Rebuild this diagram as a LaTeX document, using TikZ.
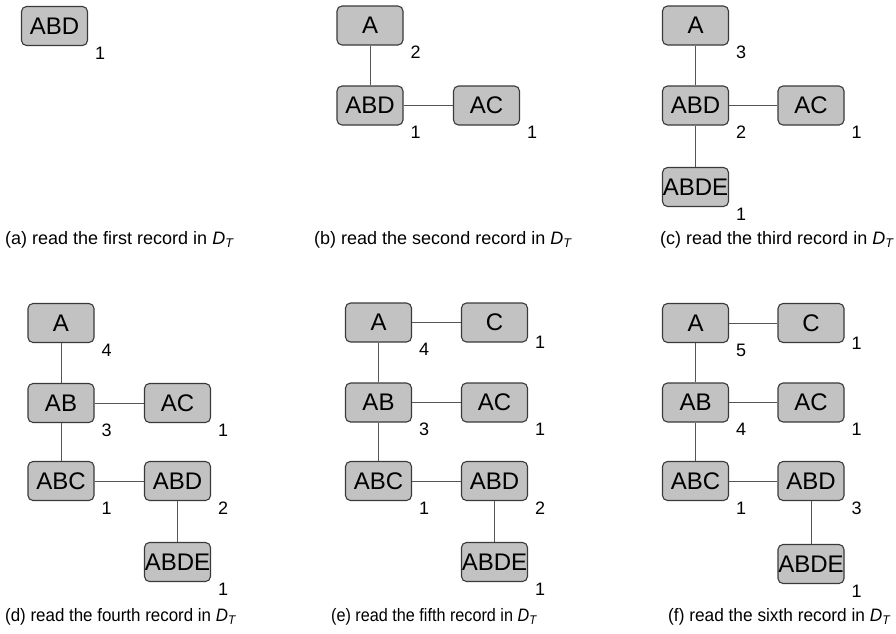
\documentclass[tikz,border=0pt]{standalone}
\usepackage{fontspec}
\setmainfont{Liberation Sans}
\usepackage{xcolor}

\definecolor{recfill}{HTML}{C2C2C2}
\definecolor{recline}{HTML}{3A3A3A}
\definecolor{linkgray}{HTML}{555555}

\tikzset{
  rec/.style={draw=recline, fill=recfill, line width=1.1pt, rounded corners=5pt,
    minimum width=66pt, minimum height=39pt, inner sep=0pt,
    font=\fontsize{24}{28}\selectfont},
  cnt/.style={inner sep=0pt, font=\fontsize{18}{20}\selectfont},
  captxt/.style={anchor=west, inner sep=0pt, font=\fontsize{18}{20}\selectfont},
  link/.style={draw=linkgray, line width=0.9pt}
}

\begin{document}
\begin{tikzpicture}[x=1pt,y=-1pt]
    \fill[white] (0,0) rectangle (896,633);
    \useasboundingbox (0,0) rectangle (896,633);

    % (a)
    \node[rec] (aABD) at (54.5,26) {ABD};
    \node[cnt] (aABDn) at ([shift={(12,7)}]aABD.south east) {1};
    \node[captxt] (acap) at (5,240) {(a) read the first record in \textit{D}\textsubscript{\textit{T}}};

    % (b)
    \node[rec] (bA) at (370,25.5) {A};
    \node[rec] (bABD) at (370,105.5) {ABD};
    \node[rec] (bAC) at (486.5,105.5) {AC};
    \draw[link] (bA) -- (bABD);
    \draw[link] (bABD) -- (bAC);
    \node[cnt] (bAn) at ([shift={(12,7)}]bA.south east) {2};
    \node[cnt] (bABDn) at ([shift={(12,7)}]bABD.south east) {1};
    \node[cnt] (bACn) at ([shift={(12,7)}]bAC.south east) {1};
    \node[captxt] (bcap) at (314,240) {(b) read the second record in \textit{D}\textsubscript{\textit{T}}};

    % (c)
    \node[rec] (cA) at (695.5,25.5) {A};
    \node[rec] (cABD) at (695.5,105.5) {ABD};
    \node[rec] (cAC) at (811,105.5) {AC};
    \node[rec] (cABDE) at (695.5,187) {ABDE};
    \draw[link] (cA) -- (cABD);
    \draw[link] (cABD) -- (cAC);
    \draw[link] (cABD) -- (cABDE);
    \node[cnt] (cAn) at ([shift={(12,7)}]cA.south east) {3};
    \node[cnt] (cABDn) at ([shift={(12,7)}]cABD.south east) {2};
    \node[cnt] (cACn) at ([shift={(12,7)}]cAC.south east) {1};
    \node[cnt] (cABDEn) at ([shift={(12,7)}]cABDE.south east) {1};
    \node[captxt] (ccap) at (660,240) {(c) read the third record in \textit{D}\textsubscript{\textit{T}}};

    % (d)
    \node[rec] (dA) at (61,323) {A};
    \node[rec] (dAB) at (61,403) {AB};
    \node[rec] (dAC) at (177.5,403) {AC};
    \node[rec] (dABC) at (61,481) {ABC};
    \node[rec] (dABD) at (177.5,481) {ABD};
    \node[rec] (dABDE) at (177.5,562) {ABDE};
    \draw[link] (dA) -- (dAB);
    \draw[link] (dAB) -- (dAC);
    \draw[link] (dAB) -- (dABC);
    \draw[link] (dABC) -- (dABD);
    \draw[link] (dABD) -- (dABDE);
    \node[cnt] (dAn) at ([shift={(12,7)}]dA.south east) {4};
    \node[cnt] (dABn) at ([shift={(12,7)}]dAB.south east) {3};
    \node[cnt] (dACn) at ([shift={(12,7)}]dAC.south east) {1};
    \node[cnt] (dABCn) at ([shift={(12,7)}]dABC.south east) {1};
    \node[cnt] (dABDn) at ([shift={(12,7)}]dABD.south east) {2};
    \node[cnt] (dABDEn) at ([shift={(12,7)}]dABDE.south east) {1};
    \node[captxt, xscale=0.94] (dcap) at (5,617) {(d) read the fourth record in \textit{D}\textsubscript{\textit{T}}};

    % (e)
    \node[rec] (eA) at (378.5,322.5) {A};
    \node[rec] (eC) at (494.5,322.5) {C};
    \node[rec] (eAB) at (378.5,402.5) {AB};
    \node[rec] (eAC) at (494.5,402.5) {AC};
    \node[rec] (eABC) at (378.5,481) {ABC};
    \node[rec] (eABD) at (494.5,481) {ABD};
    \node[rec] (eABDE) at (494.5,562) {ABDE};
    \draw[link] (eA) -- (eC);
    \draw[link] (eA) -- (eAB);
    \draw[link] (eAB) -- (eAC);
    \draw[link] (eAB) -- (eABC);
    \draw[link] (eABC) -- (eABD);
    \draw[link] (eABD) -- (eABDE);
    \node[cnt] (eAn) at ([shift={(12,7)}]eA.south east) {4};
    \node[cnt] (eCn) at ([shift={(12,0)}]eC.south east) {1};
    \node[cnt] (eABn) at ([shift={(12,7)}]eAB.south east) {3};
    \node[cnt] (eACn) at ([shift={(12,7)}]eAC.south east) {1};
    \node[cnt] (eABCn) at ([shift={(12,7)}]eABC.south east) {1};
    \node[cnt] (eABDn) at ([shift={(12,7)}]eABD.south east) {2};
    \node[cnt] (eABDEn) at ([shift={(12,7)}]eABDE.south east) {1};
    \node[captxt, xscale=0.9] (ecap) at (331,617) {(e) read the fifth record in \textit{D}\textsubscript{\textit{T}}};

    % (f)
    \node[rec] (fA) at (695.5,323) {A};
    \node[rec] (fC) at (811,323) {C};
    \node[rec] (fAB) at (695.5,402.5) {AB};
    \node[rec] (fAC) at (811,402.5) {AC};
    \node[rec] (fABC) at (695.5,481) {ABC};
    \node[rec] (fABD) at (811,481) {ABD};
    \node[rec] (fABDE) at (811,564) {ABDE};
    \draw[link] (fA) -- (fC);
    \draw[link] (fA) -- (fAB);
    \draw[link] (fAB) -- (fAC);
    \draw[link] (fAB) -- (fABC);
    \draw[link] (fABC) -- (fABD);
    \draw[link] (fABD) -- (fABDE);
    \node[cnt] (fAn) at ([shift={(12,7)}]fA.south east) {5};
    \node[cnt] (fCn) at ([shift={(12,0)}]fC.south east) {1};
    \node[cnt] (fABn) at ([shift={(12,7)}]fAB.south east) {4};
    \node[cnt] (fACn) at ([shift={(12,7)}]fAC.south east) {1};
    \node[cnt] (fABCn) at ([shift={(12,7)}]fABC.south east) {1};
    \node[cnt] (fABDn) at ([shift={(12,7)}]fABD.south east) {3};
    \node[cnt] (fABDEn) at ([shift={(12,7)}]fABDE.south east) {1};
    \node[captxt, xscale=0.96] (fcap) at (668,617) {(f) read the sixth record in \textit{D}\textsubscript{\textit{T}}};

\end{tikzpicture}
\end{document}
